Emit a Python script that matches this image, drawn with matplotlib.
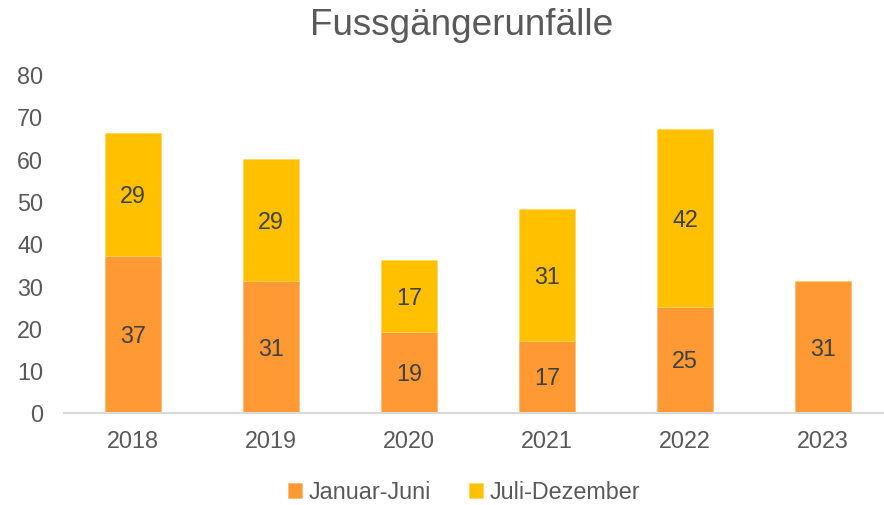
import numpy as np
import matplotlib
matplotlib.use('Agg')
import matplotlib.pyplot as plt

# Daten
jahre = ['2018', '2019', '2020', '2021', '2022', '2023']
januar_juni = [37, 31, 19, 17, 25, 31]
juli_dezember = [29, 29, 17, 31, 42, 0]

plt.rcParams['font.family'] = ['Liberation Sans', 'DejaVu Sans']

fig = plt.figure(figsize=(8.84, 5.06), dpi=100)
ax = fig.add_axes([64/884, 1 - 413.5/506, 820/884, (413.5 - 75)/506])

x = np.arange(len(jahre))
b1 = ax.bar(x, januar_juni, width=0.4, color='#FF9933', edgecolor='#FFB870',
            linewidth=0.5, label='Januar-Juni')
b2 = ax.bar(x, juli_dezember, width=0.4, bottom=januar_juni, color='#FFC000',
            edgecolor='#FFD65C', linewidth=0.5, label='Juli-Dezember')

# Datenbeschriftungen (Werte 0 weglassen)
for bars, werte, unten in [(b1, januar_juni, [0]*6), (b2, juli_dezember, januar_juni)]:
    for rect, v, u in zip(bars, werte, unten):
        if v == 0:
            continue
        ax.text(rect.get_x() + rect.get_width()/2, u + v/2 - 0.3, str(v),
                ha='center', va='center', fontsize=16.8, color='#404040')

ax.set_ylim(0, 80)
ax.set_yticks(range(0, 81, 10))
ax.set_xlim(-0.5, 5.5 - 8/138)
ax.set_xticks(x)
ax.set_xticklabels(jahre)

for s in ['top', 'right', 'left']:
    ax.spines[s].set_visible(False)
ax.spines['bottom'].set_color('#D9D9D9')
ax.spines['bottom'].set_linewidth(1.5)
ax.tick_params(axis='both', length=0, labelsize=16.8, labelcolor='#595959')
ax.tick_params(axis='y', pad=15)
ax.tick_params(axis='x', pad=12)

fig.suptitle('Fussgängerunfälle', x=0.522, y=0.95, fontsize=26.6, color='#595959', va='center')

fig.legend(handles=[b1, b2], loc='center', bbox_to_anchor=(464/884, 1 - 493/506),
           ncol=2, frameon=False, fontsize=16.8, handlelength=0.6, handleheight=0.6,
           handletextpad=0.3, columnspacing=1.6, labelcolor='#595959')

fig.savefig('out.png', dpi=100)
